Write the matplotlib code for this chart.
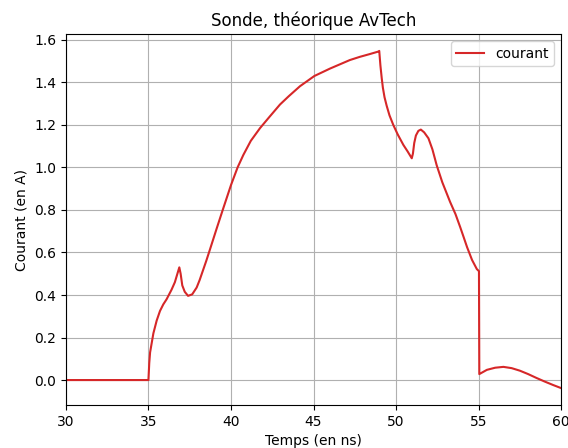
import matplotlib
matplotlib.use("Agg")
import matplotlib.pyplot as plt

# values (time in ns, current in A)
temps = [30.0, 34.99, 35.0, 35.05, 35.1, 35.2, 35.3, 35.5, 35.7, 35.9, 36.1,
         36.4, 36.6, 36.87, 36.95, 37.05, 37.2, 37.4, 37.65, 37.92, 38.1,
         38.3, 38.5, 38.73, 39.13, 39.5, 40.0, 40.4, 40.75, 41.2, 41.76, 42.3,
         42.97, 43.5, 44.18, 45.05, 46.0, 46.6, 47.2, 47.8, 48.4, 48.93, 48.98,
         49.05, 49.13, 49.2, 49.3, 49.43, 49.6, 49.83, 50.1, 50.44, 50.7,
         50.95, 51.02, 51.1, 51.2, 51.35, 51.5, 51.7, 51.96, 52.2, 52.46,
         52.8, 53.27, 53.6, 53.88, 54.08, 54.3, 54.6, 54.89, 55.02, 55.04,
         55.5, 56.0, 56.5, 57.0, 57.5, 58.0, 58.5, 59.0, 59.5, 60.0]
courant = [0.0, 0.0, 0.0, 0.08, 0.13, 0.175, 0.22, 0.28, 0.325, 0.356, 0.38,
           0.425, 0.46, 0.53, 0.50, 0.445, 0.415, 0.396, 0.403, 0.435, 0.47,
           0.515, 0.56, 0.615, 0.712, 0.8, 0.917, 1.0, 1.059, 1.125, 1.185,
           1.235, 1.296, 1.335, 1.382, 1.430, 1.465, 1.485, 1.505, 1.52, 1.533,
           1.545, 1.548, 1.48, 1.42, 1.375, 1.33, 1.29, 1.245, 1.2, 1.155,
           1.106, 1.075, 1.043, 1.065, 1.115, 1.15, 1.172, 1.178, 1.165, 1.137,
           1.085, 1.01, 0.93, 0.838, 0.78, 0.72, 0.675, 0.625, 0.565, 0.522,
           0.512, 0.028, 0.048, 0.058, 0.062, 0.056, 0.044, 0.028, 0.01,
           -0.007, -0.023, -0.038]

fig = plt.figure(figsize=(5.68, 4.48), dpi=100)
ax = fig.add_axes([0.116, 0.096, 0.872, 0.828])

ax.plot(temps, courant, color="#d62728", linewidth=1.5, label="courant")
ax.set_xlim(30, 60)
ax.set_title("Sonde, théorique AvTech")
ax.set_xlabel("Temps (en ns)")
ax.set_ylabel("Courant (en A)")
ax.grid(True)
ax.legend(loc="upper right")

fig.savefig("out.png", dpi=100)
